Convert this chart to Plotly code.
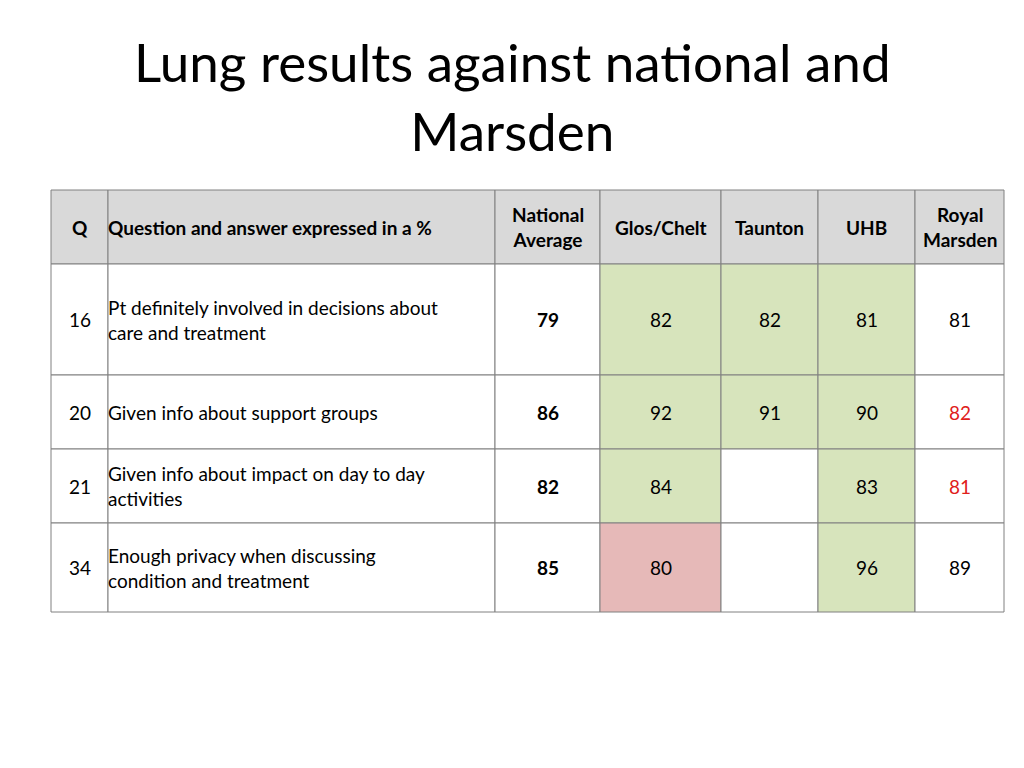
import plotly.graph_objects as go

title = "Lung results against national and<br>Marsden"
headers = ["Q", "Question and answer expressed in a %", "National<br>Average",
           "Glos/Chelt", "Taunton", "UHB", "Royal<br>Marsden"]
q_numbers = ["16", "20", "21", "34"]
questions = ["Pt definitely involved in decisions about<br>care and treatment",
             "Given info about support groups",
             "Given info about impact on day to day<br>activities",
             "Enough privacy when discussing<br>condition and treatment"]
national = [79, 86, 82, 85]
glos = [82, 92, 84, 80]
taunton = [82, 91, None, None]
uhb = [81, 90, 83, 96]
marsden = [81, 82, 81, 89]

# cell status: g = better (green), r = worse (pink), "" = none
glos_status = ["g", "g", "g", "r"]
taunton_status = ["g", "g", "", ""]
uhb_status = ["g", "g", "g", "g"]
marsden_red = [False, True, True, False]

col_edges = [51, 108, 495, 600, 721, 818, 915, 1004]
row_edges = [190, 264, 375, 449, 523, 612]
fills = {"g": "#d7e4bc", "r": "#e6b9b8", "": "white"}
FONT = "Lato, Open Sans, sans-serif"

shapes, annots = [], []

def cell(ci, ri, text, fill="white", bold=False, align="center", color="black"):
    x0, x1 = col_edges[ci], col_edges[ci + 1]
    y0, y1 = row_edges[ri], row_edges[ri + 1]
    shapes.append(dict(type="rect", x0=x0, x1=x1, y0=y0, y1=y1, xref="x", yref="y",
                       fillcolor=fill, line=dict(color="#808080", width=1), layer="below"))
    if text is None:
        return
    t = f"<b>{text}</b>" if bold else str(text)
    if align == "left":
        annots.append(dict(x=x0 - 2, y=(y0 + y1) / 2, text=t, showarrow=False, xanchor="left",
                           align="left", font=dict(family=FONT, size=19, color=color)))
    else:
        annots.append(dict(x=(x0 + x1) / 2, y=(y0 + y1) / 2, text=t, showarrow=False,
                           align="center", font=dict(family=FONT, size=19, color=color)))

for ci, h in enumerate(headers):
    cell(ci, 0, h, fill="#d9d9d9", bold=True, align="left" if ci == 1 else "center")

for i in range(len(q_numbers)):
    r = i + 1
    cell(0, r, q_numbers[i])
    cell(1, r, questions[i], align="left")
    cell(2, r, national[i], bold=True)
    cell(3, r, glos[i], fill=fills[glos_status[i]])
    cell(4, r, taunton[i], fill=fills[taunton_status[i]])
    cell(5, r, uhb[i], fill=fills[uhb_status[i]])
    cell(6, r, marsden[i], color="#e0201b" if marsden_red[i] else "black")

annots.append(dict(x=512, y=96, text=title, showarrow=False, align="center",
                   font=dict(family=FONT, size=53, color="black")))

fig = go.Figure()
fig.update_layout(width=1024, height=768, margin=dict(l=0, r=0, t=0, b=0),
                  plot_bgcolor="white", paper_bgcolor="white",
                  shapes=shapes, annotations=annots, showlegend=False)
# page body margin offsets the figure by 8px, so shift the ranges to compensate
fig.update_xaxes(range=[8, 1032], visible=False)
fig.update_yaxes(range=[776, 8], visible=False)
fig.write_html("out.html")
